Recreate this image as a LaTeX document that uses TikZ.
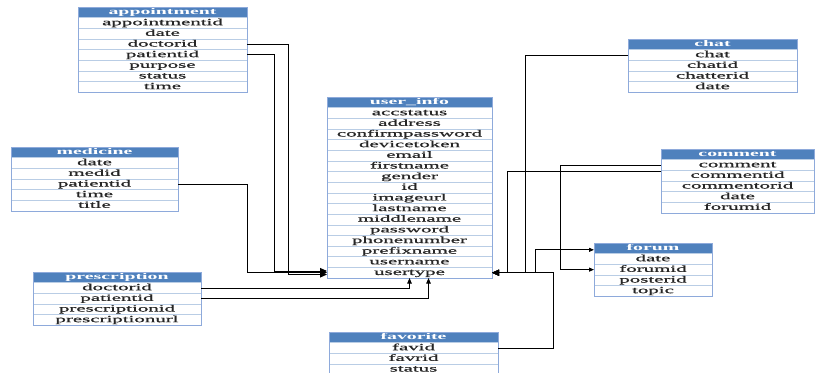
\documentclass[tikz,border=0pt]{standalone}
\usepackage{graphicx}
\usepackage{fontspec}
\setmainfont{Liberation Serif}
\usetikzlibrary{arrows.meta,calc}

\definecolor{hdrblue}{HTML}{4F81BD}
\definecolor{rowline}{HTML}{B9CDE5}
\definecolor{frameblue}{HTML}{8EAADB}
\definecolor{fieldtext}{HTML}{262626}

% stretched table text
\newcommand\wide[1]{\scalebox{2.2}[1]{#1}}

% #1 name, #2 x, #3 y, #4 width, #5 number of fields, #6 title, #7 fields
\newcommand\erdtable[7]{%
  \node[hdrcell, minimum width=#4pt, anchor=north west] (#1-0) at (#2,#3) {\wide{#6}};
  \foreach \fld [count=\i, remember=\i as \j (initially 0)] in {#7} {
    \node[fieldcell, minimum width=#4pt, anchor=north] (#1-\i) at (#1-\j.south) {\wide{\fld}};
  }
  \draw[tabframe] (#1-0.north west) rectangle (#1-#5.south east);
}

\tikzset{
  hdrcell/.style={draw=hdrblue, fill=hdrblue, text=white,
    font=\fontsize{9}{9}\selectfont\bfseries, minimum height=10.65pt,
    inner sep=0pt, outer sep=0pt, text height=6.3pt, text depth=1.8pt},
  fieldcell/.style={draw=rowline, fill=white, text=fieldtext, line width=0.6pt,
    font=\fontsize{9.5}{9.5}\selectfont\addfontfeatures{FakeBold=0.6}, minimum height=10.65pt,
    inner sep=0pt, outer sep=0pt, text height=6.5pt, text depth=2pt},
  tabframe/.style={draw=frameblue, line width=0.8pt},
  conn/.style={draw=black, line width=0.9pt},
  bigtip/.style={-{Triangle[length=7pt,width=6pt]}},
  midtip/.style={-{Triangle[length=5.5pt,width=4.5pt]}},
  smalltip/.style={-{Triangle[length=5pt,width=4pt]}},
}

\begin{document}
\begin{tikzpicture}[x=1pt, y=-1pt]
  \useasboundingbox (0,0) rectangle (818,372);
  \fill[white] (0,0) rectangle (818,372);

  % tables
  \erdtable{appointment}{78}{7}{169}{7}{appointment}
    {appointmentid,date,doctorid,patientid,purpose,status,time}
  \erdtable{user_info}{327}{97}{165}{16}{user\_info}
    {accstatus,address,confirmpassword,devicetoken,email,firstname,gender,id,imageurl,lastname,middlename,password,phonenumber,prefixname,username,usertype}
  \erdtable{chat}{628}{39}{169}{4}{chat}{chat,chatid,chatterid,date}
  \erdtable{comment}{661}{149}{153}{5}{comment}
    {comment,commentid,commentorid,date,forumid}
  \erdtable{forum}{594}{243}{118}{4}{forum}{date,forumid,posterid,topic}
  \erdtable{medicine}{11}{147}{167}{5}{medicine}{date,medid,patientid,time,title}
  \erdtable{prescription}{33}{272}{168}{4}{prescription}
    {doctorid,patientid,prescriptionid,prescriptionurl}
  \erdtable{favorite}{329}{332}{169}{3}{favorite}{favid,favrid,status}

  % bend points
  \coordinate (ka1) at (288,274.5);
  \coordinate (ka2) at (274,271);
  \coordinate (km)  at (247,272.5);
  \coordinate (kb)  at (507,0);
  \coordinate (kc)  at (525,0);
  \coordinate (kg)  at (535,0);
  \coordinate (kv)  at (553,0);
  \coordinate (kf)  at (560,0);
  \coordinate (fy) at ([yshift=-1.5pt]forum-0.west);
  \coordinate (cm) at ([yshift=-1.5pt]comment-2.north west);

  % left side references
  \draw[conn, bigtip] (appointment-3.east) -| (ka1) -- (ka1 -| user_info-16.west);
  \draw[conn, bigtip] (appointment-4.east) -| (ka2) -- (ka2 -| user_info-16.west);
  \draw[conn, bigtip] (medicine-3.east) -| (km) -- (km -| user_info-16.west);

  % bottom references
  \draw[conn, midtip] (prescription-1.east) -| (user_info-16.south);
  \draw[conn, midtip] (prescription-2.east) -| ([xshift=19pt]user_info-16.south);

  % right side references
  \draw[conn, bigtip] (chat-1.west) -| (kc |- user_info-16.east) -- (user_info-16.east);
  \draw[conn, bigtip] (cm) -| (kb |- user_info-16.east) -- (user_info-16.east);
  \draw[conn, bigtip] (favorite-1.east) -| (kv |- user_info-16.east) -- (user_info-16.east);
  \draw[conn, arrows={Triangle[length=7pt,width=6pt]-Triangle[length=5pt,width=4pt]}]
    (user_info-16.east) -| (kg |- fy) -- (fy);
  \draw[conn, smalltip] (comment-1.west) -| (kf |- forum-2.west) -- (forum-2.west);
\end{tikzpicture}
\end{document}
